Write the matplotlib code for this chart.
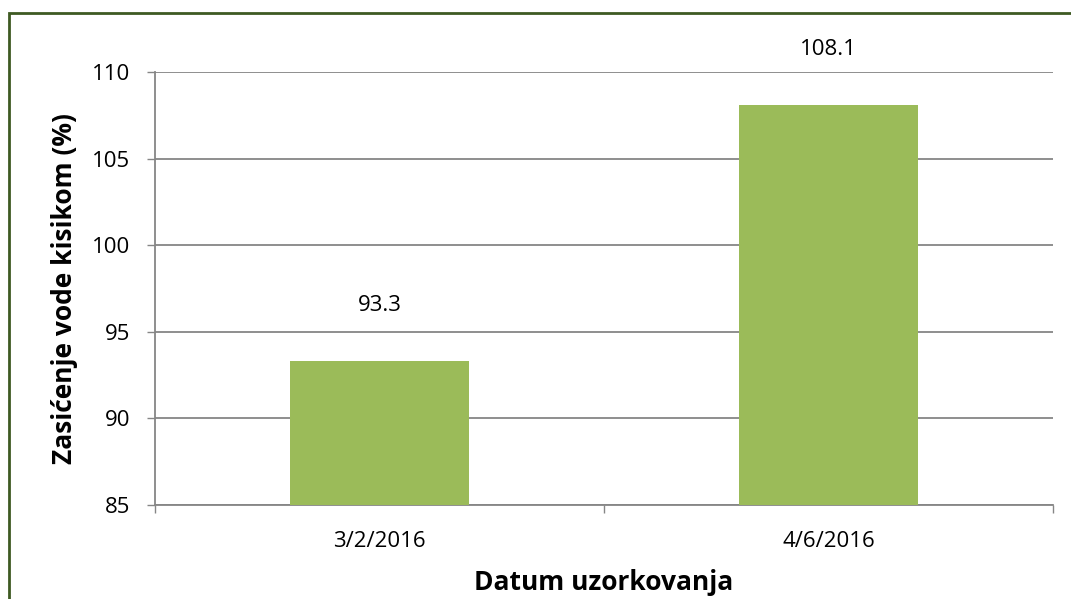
# bar chart of oxygen saturation by sampling date
import matplotlib.pyplot as plt
from matplotlib.patches import Rectangle

dates = ["3/2/2016", "4/6/2016"]
saturation = [93.3, 108.1]
y_ticks = [85, 90, 95, 100, 105, 110]

plt.rcParams["font.family"] = ["Open Sans", "DejaVu Sans"]

W, H, DPI = 1071, 599, 100
fig = plt.figure(figsize=(W / DPI, H / DPI), dpi=DPI)
ax = fig.add_axes([155 / W, 1 - 505 / H, (1053 - 155) / W, (505 - 72) / H])

grid_col = "#868686"
x = list(range(len(dates)))
ax.bar(x, saturation, width=0.4, color="#9BBB59", zorder=3)

ax.set_xlim(-0.5, len(dates) - 0.5)
ax.set_ylim(85, 110)
ax.set_yticks(y_ticks)
ax.set_yticklabels([str(v) for v in y_ticks], fontsize=16)
ax.set_xticks(x)
ax.set_xticklabels(dates, fontsize=16)
ax.tick_params(axis="x", length=0, pad=19)
ax.set_xticks([-0.5, 0.5, 1.5], minor=True)
ax.tick_params(axis="x", which="minor", length=6, width=1, color=grid_col, direction="out")
ax.tick_params(axis="y", length=6, width=1, color=grid_col, pad=12)

ax.grid(axis="y", color=grid_col, lw=1.3, zorder=0)
for s in ["top", "right"]:
    ax.spines[s].set_visible(False)
for s in ["left", "bottom"]:
    ax.spines[s].set_color(grid_col)
    ax.spines[s].set_linewidth(1.3)

for xi, v in zip(x, saturation):
    ax.annotate(f"{v:.1f}", (xi, v), xytext=(0, 40), textcoords="offset points",
                ha="center", va="center", fontsize=16)

ax.set_xlabel("Datum uzorkovanja", fontsize=19, fontweight="bold", labelpad=12)
ax.set_ylabel("Zasićenje vode kisikom (%)", fontsize=19, fontweight="bold", labelpad=10)

# dark green frame around the chart area
fig.patches.append(Rectangle((9 / W, -0.02), 1.05, 1 - 13 / H + 0.02,
                             transform=fig.transFigure, fill=False,
                             edgecolor="#3E5A22", lw=2))

fig.savefig("out.png", dpi=DPI)
